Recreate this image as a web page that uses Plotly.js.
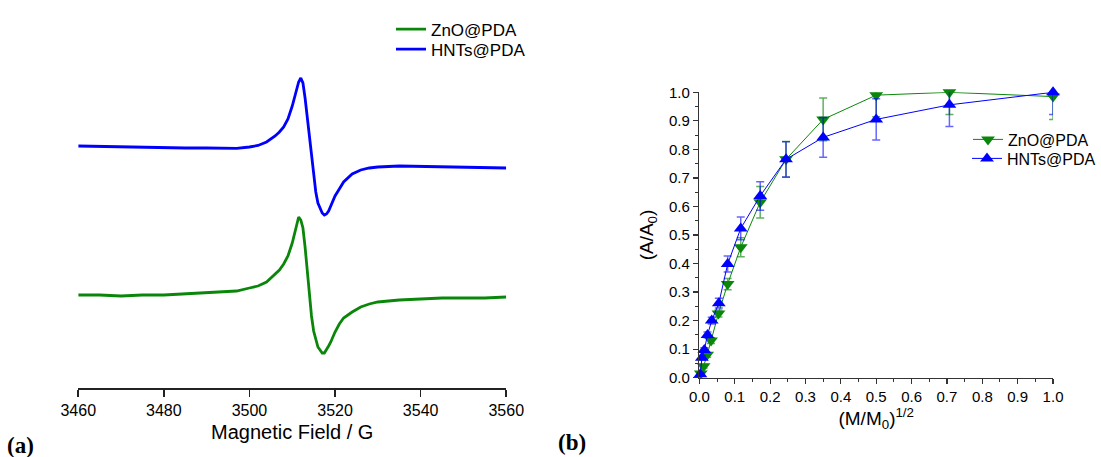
<!DOCTYPE html>
<html>
<head>
<meta charset="utf-8">
<script src="https://cdn.plot.ly/plotly-3.0.1.min.js"></script>
<style>
html,body{margin:0;padding:0;background:#fff;}
#chart{width:1101px;height:457px;}
</style>
</head>
<body>
<div id="chart"></div>
<script>
// ---------- Panel (a): EPR spectra ----------
const fieldG = [3460,3465,3470,3475,3480,3485,3490,3495,3497,3500,3502,3504,3506,3507,3508,3509,3510,3511,3511.5,3512,3512.5,3513,3513.5,3514,3514.5,3515,3515.5,3516,3516.5,3517,3517.5,3518,3518.5,3519,3520,3521,3522,3524,3526,3528,3530,3535,3540,3545,3550,3555,3560];
const hntsEPR = [242,241.5,241,241,240.5,240,240,240,239.7,241,242.5,246,252,256,261,269,282,298,306,310,305,290,270,250,231,211,196,185,179,175,173,174,177,182,192,199,206,214,218,220,221,222,221.5,221,221,220.5,220];
const znoEPR = [93,93,92,93,93,94,95,96,97,100,102,106,114,118,124,132,145,162,171,168,160,141,118,93,72,57,48,41,38,35,35,38,42,46,56,64,70,76,81,84,86,88,89,90,90,90,91];
const fieldTicks = [3460,3480,3500,3520,3540,3560];

// ---------- Panel (b): adsorption curves ----------
const znoX = [0.004,0.012,0.022,0.033,0.054,0.08,0.117,0.172,0.245,0.35,0.5,0.707,1.0];
const znoY = [0.015,0.04,0.08,0.13,0.225,0.328,0.457,0.615,0.765,0.905,0.99,1.0,0.985];
const znoErr = [0.005,0.006,0.008,0.01,0.012,0.02,0.033,0.055,0.063,0.075,0.076,0.078,0.08];
const hntsX = [0.003,0.007,0.014,0.023,0.035,0.055,0.08,0.117,0.172,0.245,0.35,0.5,0.707,1.0];
const hntsY = [0.012,0.07,0.097,0.15,0.2,0.261,0.398,0.523,0.637,0.765,0.842,0.905,0.956,1.0];
const hntsErr = [0.005,0.008,0.008,0.01,0.012,0.017,0.028,0.04,0.05,0.062,0.07,0.072,0.076,0.078];

const GREEN = '#0a870a';
const BLUE = '#0000ff';
const FONT = 'Arial, "Liberation Sans", sans-serif';

const traces = [
  {x: fieldG, y: znoEPR, xaxis:'x', yaxis:'y', mode:'lines', name:'ZnO@PDA',
   line:{color:GREEN, width:2.8}, legend:'legend'},
  {x: fieldG, y: hntsEPR, xaxis:'x', yaxis:'y', mode:'lines', name:'HNTs@PDA',
   line:{color:BLUE, width:2.8}, legend:'legend2'},
  {x: znoX, y: znoY, xaxis:'x2', yaxis:'y2', mode:'lines+markers', name:'ZnO@PDA',
   line:{color:GREEN, width:1}, marker:{symbol:'triangle-down', size:12, color:GREEN},
   error_y:{type:'data', array:znoErr, visible:true, color:'rgba(10,135,10,0.65)', thickness:1.5, width:4},
   cliponaxis:false, legend:'legend3'},
  {x: hntsX, y: hntsY, xaxis:'x2', yaxis:'y2', mode:'lines+markers', name:'HNTs@PDA',
   line:{color:BLUE, width:1}, marker:{symbol:'triangle-up', size:12, color:BLUE},
   error_y:{type:'data', array:hntsErr, visible:true, color:'rgba(0,0,255,0.6)', thickness:1.5, width:4},
   cliponaxis:false, legend:'legend4'}
];

const W = 1101, H = 457;
const px = v => v / W;
const py = v => 1 - v / H;

function leg(x, y, size) {
  return {x: px(x), y: py(y), xanchor:'left', yanchor:'top',
    bgcolor:'rgba(0,0,0,0)', borderwidth:0,
    font:{size:size, family:FONT}, tracegroupgap:0};
}

const layout = {
  width: W, height: H,
  margin:{l:0, r:0, t:0, b:0},
  paper_bgcolor:'#fff', plot_bgcolor:'rgba(0,0,0,0)',
  font:{family:FONT, color:'#000'},
  showlegend:true,
  xaxis:{
    domain:[px(78.3), px(506.7)], range:[3460,3560], anchor:'y',
    tickvals: fieldTicks, ticktext: fieldTicks.map(String),
    ticks:'outside', ticklen:7, tickwidth:1.5, tickcolor:'#222',
    showline:true, linecolor:'#222', linewidth:1.5,
    showgrid:false, zeroline:false,
    tickfont:{size:16, family:FONT},
    title:{text:'Magnetic Field / G', font:{size:20, family:FONT}, standoff:7}
  },
  yaxis:{
    domain:[py(388), py(60)], range:[0,328], anchor:'x',
    visible:false, showgrid:false, zeroline:false
  },
  xaxis2:{
    domain:[px(700), px(1054)], range:[0,1], anchor:'y2',
    dtick:0.1, tick0:0, tickformat:'.1f',
    ticks:'outside', ticklen:5, tickwidth:1.2, tickcolor:'#333',
    minor:{ticks:'outside', ticklen:3, dtick:0.05, tickcolor:'#333', tickwidth:1},
    showline:true, linecolor:'#333', linewidth:1.5,
    showgrid:false, zeroline:false,
    tickfont:{size:15, family:FONT},
    title:{text:'(M/M<sub>0</sub>)<sup>1/2</sup>', font:{size:19, family:FONT}, standoff:3}
  },
  yaxis2:{
    domain:[py(377.7), py(92.3)], range:[0,1], anchor:'x2',
    dtick:0.1, tick0:0, tickformat:'.1f',
    ticks:'outside', ticklen:5, tickwidth:1.2, tickcolor:'#333',
    minor:{ticks:'outside', ticklen:3, dtick:0.05, tickcolor:'#333', tickwidth:1},
    showline:true, linecolor:'#333', linewidth:1.5,
    showgrid:false, zeroline:false,
    tickfont:{size:15, family:FONT},
    title:{text:'(A/A<sub>0</sub>)', font:{size:19, family:FONT}, standoff:10}
  },
  legend: leg(391, 11.5, 17),
  legend2: leg(391, 31.5, 17),
  legend3: leg(968, 122.5, 16),
  legend4: leg(968, 141.5, 16),
  annotations:[
    {text:'<b>(a)</b>', x:px(21), y:py(445), xref:'paper', yref:'paper', showarrow:false,
     xanchor:'center', yanchor:'middle',
     font:{family:'"Liberation Serif", "Times New Roman", serif', size:23, color:'#000'}},
    {text:'<b>(b)</b>', x:px(573), y:py(442), xref:'paper', yref:'paper', showarrow:false,
     xanchor:'center', yanchor:'middle',
     font:{family:'"Liberation Serif", "Times New Roman", serif', size:23, color:'#000'}}
  ]
};

Plotly.newPlot('chart', traces, layout, {displayModeBar:false, staticPlot:true});
</script>
</body>
</html>
